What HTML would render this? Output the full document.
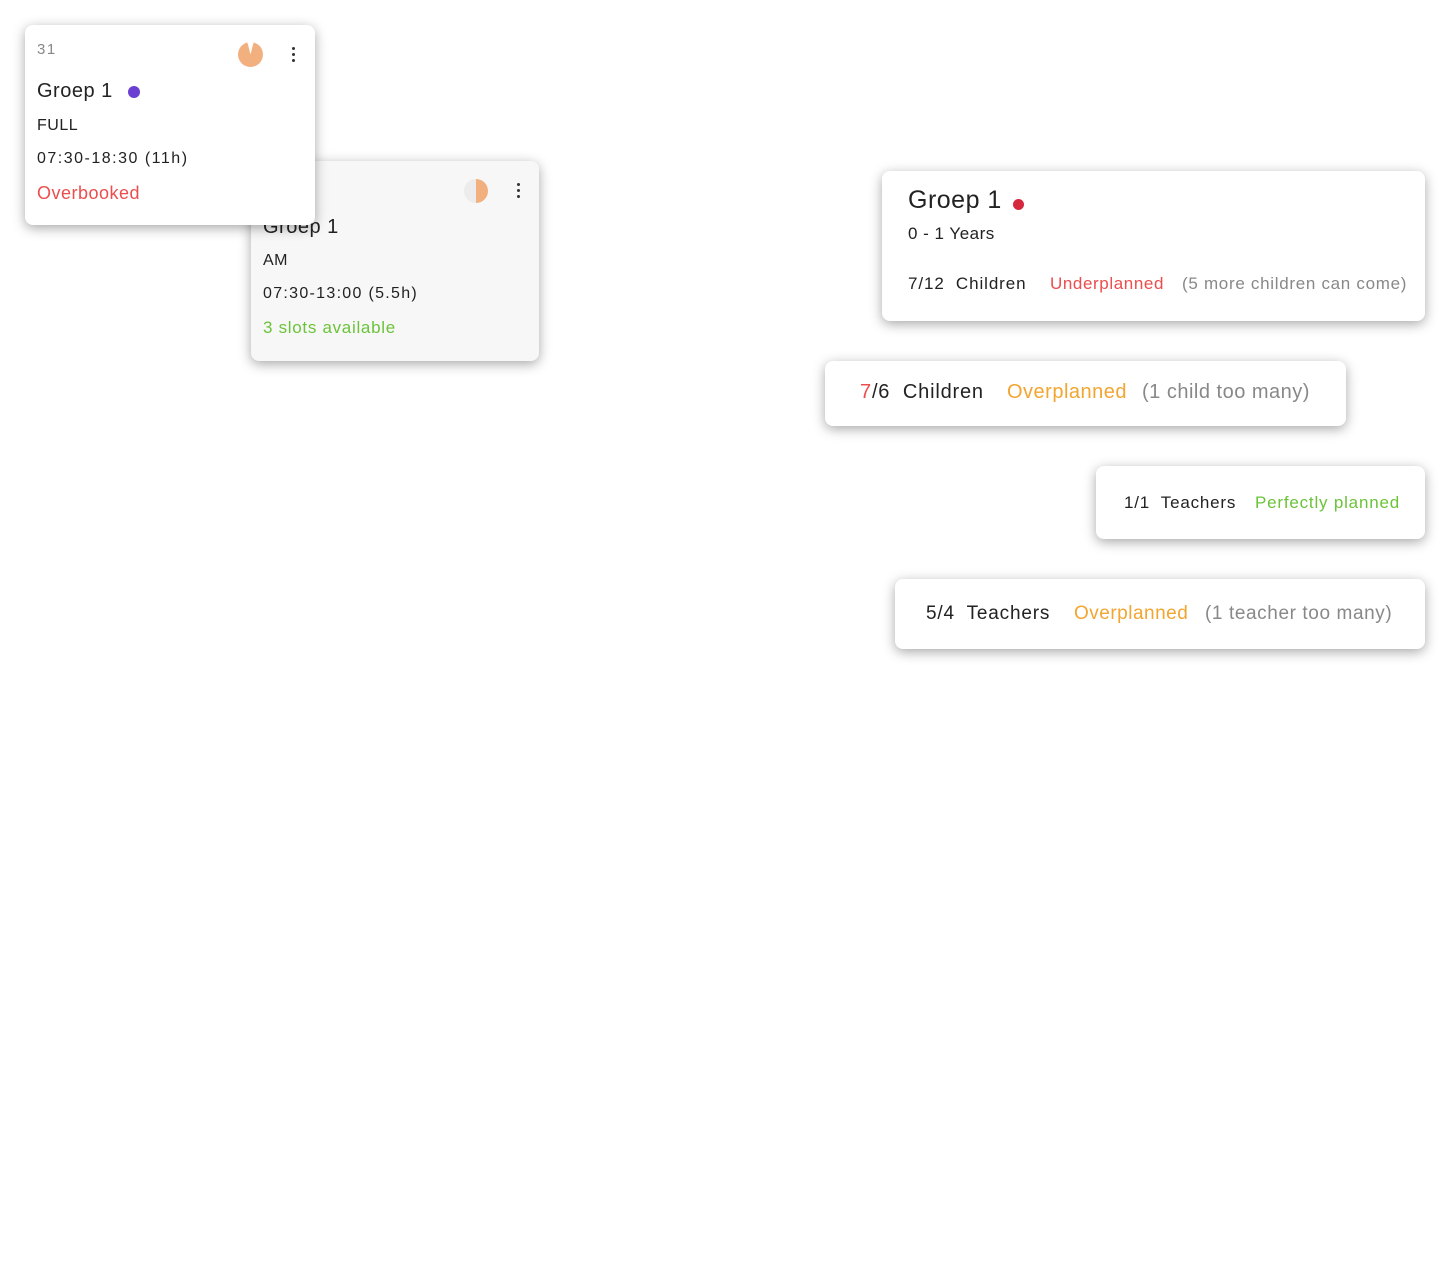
<!DOCTYPE html>
<html><head><meta charset="utf-8"><style>
body{margin:0;width:1451px;height:1274px;background:#fff;position:relative;font-family:"Liberation Sans",sans-serif;overflow:hidden}
.c{position:absolute;background:#fff;border-radius:8px;box-shadow:0 3px 12px rgba(0,0,0,.35)}
.t{position:absolute;white-space:nowrap;line-height:1;color:#222;letter-spacing:.5px}
.dots{position:absolute;width:3px}
.dots i{display:block;width:3px;height:3px;border-radius:50%;background:#333;margin-bottom:3px}
</style></head><body>

<div class="c" style="left:251px;top:161px;width:288px;height:200px;background:#f7f7f7">
  <div style="position:absolute;left:213px;top:18px;width:24px;height:24px;border-radius:50%;background:conic-gradient(#f2b07f 0 50%,#ececec 50% 100%)"></div>
  <div class="dots" style="left:266px;top:22px"><i></i><i></i><i></i></div>
  <div class="t" style="left:12px;top:56px;font-size:20px">Groep 1</div>
  <div class="t" style="left:12px;top:92px;font-size:16px">AM</div>
  <div class="t" style="left:12px;top:125px;font-size:16px;letter-spacing:1.3px">07:30-13:00 (5.5h)</div>
  <div class="t" style="left:12px;top:158px;font-size:17px;color:#6cc33a;letter-spacing:.7px">3 slots available</div>
</div>

<div class="c" style="left:25px;top:25px;width:290px;height:200px">
  <div class="t" style="left:12px;top:17px;font-size:15px;color:#888;letter-spacing:1.5px">31</div>
  <div style="position:absolute;left:213px;top:17px;width:25px;height:25px;border-radius:50%;background:conic-gradient(#fff 0 4%,#f2b07f 4% 96%,#fff 96% 100%)"></div>
  <div class="dots" style="left:267px;top:22px"><i></i><i></i><i></i></div>
  <div class="t" style="left:12px;top:56px;font-size:20px">Groep 1</div>
  <div style="position:absolute;left:103px;top:61px;width:12px;height:12px;border-radius:50%;background:#6a3fd1"></div>
  <div class="t" style="left:12px;top:93px;font-size:16px">FULL</div>
  <div class="t" style="left:12px;top:126px;font-size:16px;letter-spacing:1.5px">07:30-18:30 (11h)</div>
  <div class="t" style="left:12px;top:159px;font-size:18px;color:#ec4d4d">Overbooked</div>
</div>

<div class="c" style="left:882px;top:171px;width:543px;height:150px">
  <div class="t" style="left:26px;top:17px;font-size:25px">Groep 1</div>
  <div style="position:absolute;left:131px;top:28px;width:11px;height:11px;border-radius:50%;background:#d5283e"></div>
  <div class="t" style="left:26px;top:54px;font-size:17px">0 - 1 Years</div>
  <div class="t" style="left:26px;top:104px;font-size:17px;letter-spacing:.9px">7/12&nbsp; Children</div>
  <div class="t" style="left:168px;top:104px;font-size:17px;color:#ec4d4d;letter-spacing:.6px">Underplanned</div>
  <div class="t" style="left:300px;top:104px;font-size:17px;color:#888;letter-spacing:.7px">(5 more children can come)</div>
</div>

<div class="c" style="left:825px;top:361px;width:521px;height:65px">
  <div class="t" style="left:35px;top:21px;font-size:20px;letter-spacing:.8px"><span style="color:#ec4d4d">7</span>/6&nbsp; Children</div>
  <div class="t" style="left:182px;top:21px;font-size:20px;color:#f2a530">Overplanned</div>
  <div class="t" style="left:317px;top:21px;font-size:20px;color:#888">(1 child too many)</div>
</div>

<div class="c" style="left:1096px;top:466px;width:329px;height:73px">
  <div class="t" style="left:28px;top:28px;font-size:17px;letter-spacing:.8px">1/1&nbsp; Teachers</div>
  <div class="t" style="left:159px;top:28px;font-size:17px;color:#6cc33a;letter-spacing:.8px">Perfectly planned</div>
</div>

<div class="c" style="left:895px;top:579px;width:530px;height:70px">
  <div class="t" style="left:31px;top:25px;font-size:19px;letter-spacing:.8px">5/4&nbsp; Teachers</div>
  <div class="t" style="left:179px;top:25px;font-size:19px;color:#f2a530">Overplanned</div>
  <div class="t" style="left:310px;top:25px;font-size:19px;color:#888;letter-spacing:.6px">(1 teacher too many)</div>
</div>

</body></html>
